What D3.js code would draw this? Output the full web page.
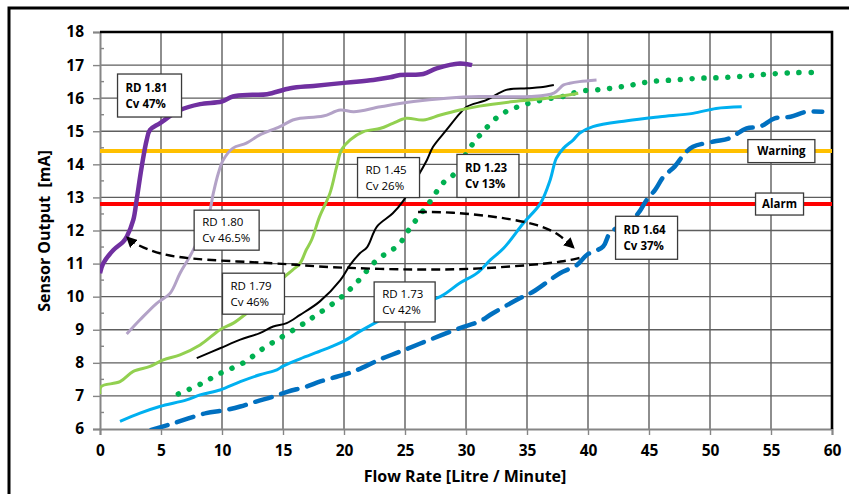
<!DOCTYPE html>
<html><head><meta charset="utf-8">
<script src="https://cdn.jsdelivr.net/npm/d3@7"></script>
<style>
html,body{margin:0;padding:0;background:#fff;}
svg{display:block;font-family:"Open Sans",sans-serif;}
</style></head>
<body><svg id="chart" width="849" height="494"></svg>
<script>
// ---------- data (flow rate L/min, sensor output mA) ----------
const xTicks = [0,5,10,15,20,25,30,35,40,45,50,55,60];
const yTicks = [6,7,8,9,10,11,12,13,14,15,16,17,18];
const warningLevel = 14.4;
const alarmLevel = 12.8;

const rd181 = [[0,10.71],[0.27,11.01],[1.1,11.41],[1.9,11.66],[2.2,11.82],[2.73,12.32],[3.0,12.92],[3.42,13.93],[3.83,14.74],[4.1,15.04],[4.9,15.24],[6.56,15.64],[8.2,15.82],[9.97,15.9],[10.9,16.05],[12.5,16.1],[13.7,16.12],[15.6,16.3],[17.5,16.37],[20.2,16.47],[22.4,16.55],[23.8,16.63],[24.6,16.7],[26.5,16.73],[27.6,16.9],[29.5,17.05],[30.5,17.0]];
const rd180 = [[2.19,8.87],[3.28,9.3],[4.65,9.8],[5.74,10.1],[6.56,10.71],[7.5,11.31],[8.88,12.42],[9.29,13.13],[9.7,13.73],[10.1,14.13],[10.9,14.49],[12.0,14.64],[13.1,14.89],[14.75,15.14],[15.8,15.34],[16.4,15.39],[18.3,15.46],[19.7,15.64],[20.8,15.59],[23.0,15.74],[25.7,15.9],[28.4,16.0],[31.1,16.05],[35.2,16.05],[37.2,16.15],[38.0,16.4],[38.5,16.45],[39.3,16.5],[40.7,16.55]];
const rd179 = [[0,7.05],[0.08,7.28],[1.64,7.43],[2.73,7.74],[4.1,7.89],[5.19,8.09],[6.56,8.24],[8.2,8.54],[9.84,9.0],[10.93,9.2],[12.02,9.5],[13.66,10.0],[15.0,10.56],[15.8,10.81],[16.4,11.01],[16.9,11.41],[17.35,11.72],[18.0,12.42],[18.85,13.13],[19.4,13.93],[19.8,14.44],[20.5,14.74],[21.6,14.99],[23.0,15.09],[24.0,15.24],[25.1,15.39],[26.5,15.34],[27.9,15.49],[29.5,15.64],[31.1,15.76],[33.9,15.9],[36.6,16.0],[39.2,16.15]];
const rd145 = [[7.93,8.14],[9.84,8.44],[11.5,8.7],[13.1,8.9],[14.2,9.1],[15.3,9.2],[16.4,9.45],[18.0,9.85],[19.7,10.5],[20.5,10.96],[21.3,11.31],[21.9,11.5],[22.7,12.12],[24.0,12.52],[24.9,12.92],[26.2,13.73],[26.8,14.13],[27.3,14.53],[28.4,15.04],[29.5,15.54],[30.05,15.74],[31.7,15.95],[33.3,16.25],[35.0,16.3],[36.1,16.33],[37.2,16.4]];
const rd123 = [[6.42,7.06],[8.2,7.35],[9.84,7.68],[11.75,8.0],[13.4,8.44],[14.9,8.78],[16.4,9.12],[17.35,9.35],[19.67,9.95],[21.0,10.41],[22.7,11.11],[24.45,11.56],[25.5,12.12],[27.05,12.87],[28.1,13.43],[28.96,13.68],[30.3,14.49],[31.4,14.99],[32.8,15.49],[34.4,15.76],[36.3,15.95],[38.3,16.08],[39.2,16.2],[41.25,16.27],[43.2,16.37],[45.1,16.5],[47.1,16.55],[49.0,16.6],[51.0,16.62],[53.0,16.67],[54.9,16.73],[56.9,16.77],[58.7,16.78]];
const rd173 = [[1.64,6.23],[3.28,6.48],[4.9,6.68],[7.1,6.88],[8.2,7.03],[9.84,7.18],[11.5,7.43],[13.1,7.64],[14.5,7.79],[15.0,7.9],[16.4,8.12],[18.3,8.39],[19.9,8.64],[21.3,8.95],[23.0,9.3],[24.6,9.6],[26.2,9.8],[27.9,10.0],[29.5,10.41],[30.9,10.71],[32.0,11.11],[33.1,11.47],[34.7,12.22],[36.1,12.82],[36.9,13.53],[37.4,14.18],[38.0,14.49],[38.8,14.74],[39.3,14.94],[40.4,15.14],[43.2,15.32],[45.9,15.44],[48.6,15.54],[50.5,15.69],[52.6,15.74]];
const rd164 = [[4.2,5.97],[6.0,6.17],[8.7,6.48],[10.1,6.56],[11.5,6.68],[12.8,6.83],[14.2,6.98],[15.4,7.13],[16.9,7.28],[18.0,7.43],[19.4,7.58],[20.8,7.74],[23.0,8.11],[24.6,8.34],[27.05,8.7],[29.5,9.05],[31.1,9.25],[32.2,9.5],[34.4,9.95],[35.5,10.15],[36.9,10.51],[37.7,10.71],[39.1,10.96],[39.9,11.26],[41.25,11.52],[41.8,11.92],[44.0,12.47],[44.8,12.92],[45.5,13.23],[46.2,13.63],[47.1,13.93],[47.95,14.34],[48.6,14.53],[50.3,14.69],[51.6,14.79],[53.0,15.09],[54.1,15.14],[55.3,15.39],[56.6,15.44],[57.9,15.59],[59.2,15.59]];

// annotation arrows (data units)
const arrowLeft = [[39.3,11.17],[37.95,11.06],[35.5,10.96],[31.7,10.86],[28.4,10.81],[22.95,10.83],[17.5,10.91],[14.75,11.01],[8.2,11.11],[4.92,11.26],[2.7,11.62],[2.2,11.8]];
const arrowRight = [[26.07,12.56],[28.7,12.56],[32.8,12.41],[36.1,12.17],[37.7,11.87],[38.85,11.47]];

const labelTexts = [
  ["RD 1.81","Cv 47%"], ["RD 1.80","Cv 46.5%"], ["RD 1.45","Cv 26%"], ["RD 1.23","Cv 13%"],
  ["RD 1.79","Cv 46%"], ["RD 1.73","Cv 42%"], ["RD 1.64","Cv 37%"], ["Warning"], ["Alarm"]
];

// ---------- layout / style ----------
const W = 849, H = 494;
const FONT = "'Open Sans', sans-serif";
const x = d3.scaleLinear().domain([0,60]).range([100,832]);
const y = d3.scaleLinear().domain([6,18]).range([429,32]);

const seriesStyle = [
  {data: rd164, color:"#0070C0", width:4.5, dash:"17 10", cap:"round"},
  {data: rd173, color:"#00B0F0", width:3, dash:null},
  {data: rd123, color:"#00B050", width:5.5, dash:"0.1 11.8", cap:"round"},
  {data: rd145, color:"#000000", width:2, dash:null},
  {data: rd179, color:"#92D050", width:3, dash:null},
  {data: rd180, color:"#B3A2C7", width:3, dash:null},
  {data: rd181, color:"#7030A0", width:4.5, dash:null}
];

// box centres in data units, size in px
const labelLayout = [
  {cx:4.06, cy:16.08, w:64, h:43, bold:true},
  {cx:10.38, cy:12.01, w:65, h:40, bold:false},
  {cx:23.65, cy:13.6, w:62, h:40, bold:false},
  {cx:31.8, cy:13.65, w:62, h:43, bold:true},
  {cx:12.58, cy:10.09, w:62, h:41, bold:false},
  {cx:24.97, cy:9.84, w:61, h:40, bold:false},
  {cx:44.8, cy:11.78, w:62, h:43, bold:true},
  {cx:55.85, cy:warningLevel, w:67, h:23, bold:true, center:true},
  {cx:55.7, cy:alarmLevel, w:48, h:22, bold:true, center:true}
];

const svg = d3.select("#chart");

// outer frame
svg.append("rect").attr("x",9).attr("y",8).attr("width",W+20).attr("height",H+20)
  .attr("fill","none").attr("stroke","#000").attr("stroke-width",3);

const defs = svg.append("defs");
defs.append("clipPath").attr("id","plotClip")
  .append("rect").attr("x",x(0)).attr("y",y(18)-3).attr("width",x(60)-x(0)).attr("height",y(6)-y(18)+3);
defs.append("marker").attr("id","arrowHead")
  .attr("viewBox","0 0 10 10").attr("refX",9).attr("refY",5)
  .attr("markerWidth",11).attr("markerHeight",11).attr("markerUnits","userSpaceOnUse")
  .attr("orient","auto")
  .append("path").attr("d","M0,0 L10,5 L0,10 Z").attr("fill","#000");

// gridlines
const grid = svg.append("g");
grid.selectAll("line.v").data(xTicks.slice(1,-1)).join("line")
  .attr("x1",d=>x(d)).attr("x2",d=>x(d)).attr("y1",y(18)).attr("y2",y(6))
  .attr("stroke","#5e5e5e").attr("stroke-width",1.4);
grid.selectAll("line.h").data(yTicks.slice(1,-1)).join("line")
  .attr("y1",d=>y(d)).attr("y2",d=>y(d)).attr("x1",x(0)).attr("x2",x(60))
  .attr("stroke","#5e5e5e").attr("stroke-width",1.4);

// axes
const yAxis = svg.append("g").attr("transform",`translate(${x(0)},0)`)
  .call(d3.axisLeft(y).tickValues(yTicks).tickSize(7).tickPadding(9).tickFormat(d3.format("d")));
const xAxis = svg.append("g").attr("transform",`translate(0,${y(6)})`)
  .call(d3.axisBottom(x).tickValues(xTicks).tickSize(6).tickPadding(10).tickFormat(d3.format("d")));
[xAxis,yAxis].forEach(a=>{
  a.select(".domain").attr("stroke","#868686").attr("stroke-width",2);
  a.selectAll(".tick line").attr("stroke","#868686").attr("stroke-width",1.4);
  a.selectAll(".tick text").attr("fill","#000")
    .style("font-family",FONT).style("font-size","15.5px").style("font-weight","bold");
});
// minor ticks on y (inside)
svg.append("g").selectAll("line").data(yTicks.slice(0,-1).map(v=>v+0.5)).join("line")
  .attr("x1",x(0)).attr("x2",x(0)+4).attr("y1",d=>y(d)).attr("y2",d=>y(d))
  .attr("stroke","#868686").attr("stroke-width",1.4);

// top and right plot border
svg.append("path").attr("d",`M${x(0)},${y(18)} H${x(60)} V${y(6)}`)
  .attr("fill","none").attr("stroke","#000").attr("stroke-width",2.6);

// threshold lines
svg.append("line").attr("x1",x(0)).attr("x2",x(60)).attr("y1",y(warningLevel)).attr("y2",y(warningLevel))
  .attr("stroke","#FFC000").attr("stroke-width",4);
svg.append("line").attr("x1",x(0)).attr("x2",x(60)).attr("y1",y(alarmLevel)).attr("y2",y(alarmLevel))
  .attr("stroke","#FF0000").attr("stroke-width",4);

// series
const line = d3.line().x(d=>x(d[0])).y(d=>y(d[1])).curve(d3.curveCatmullRom.alpha(0.5));
const plot = svg.append("g").attr("clip-path","url(#plotClip)");
seriesStyle.forEach(s=>{
  plot.append("path").attr("d",line(s.data)).attr("fill","none")
    .attr("stroke",s.color).attr("stroke-width",s.width)
    .attr("stroke-linecap",s.cap||"butt").attr("stroke-linejoin","round")
    .attr("stroke-dasharray",s.dash);
});

// arrows
const aLine = d3.line().x(d=>x(d[0])).y(d=>y(d[1])).curve(d3.curveBasis);
[arrowLeft,arrowRight].forEach(a=>{
  svg.append("path").attr("d",aLine(a)).attr("fill","none").attr("stroke","#000")
    .attr("stroke-width",2.4).attr("stroke-dasharray","9 5")
    .attr("marker-end","url(#arrowHead)");
});

// label boxes
labelLayout.forEach((L,i)=>{
  const lines = labelTexts[i];
  const cx = x(L.cx), cy = y(L.cy);
  const g = svg.append("g");
  g.append("rect").attr("x",cx-L.w/2).attr("y",cy-L.h/2).attr("width",L.w).attr("height",L.h)
    .attr("fill","#fff").attr("stroke","#3a3a3a").attr("stroke-width",1.3);
  const lh = 16;
  lines.forEach((t,j)=>{
    g.append("text")
      .attr("x", L.center ? cx : cx-L.w/2+8)
      .attr("y", cy + (j-(lines.length-1)/2)*lh)
      .attr("dy","0.36em")
      .attr("text-anchor", L.center ? "middle":"start")
      .style("font-family",FONT)
      .style("font-size","11.5px")
      .style("font-weight", L.bold ? "bold":"normal")
      .attr("fill","#000").text(t);
  });
});

// axis titles
svg.append("text").attr("x",465).attr("y",482).attr("text-anchor","middle")
  .style("font-family",FONT).style("font-size","16px").style("font-weight","bold")
  .text("Flow Rate [Litre / Minute]");
svg.append("text").attr("transform",`translate(50,231) rotate(-90)`).attr("text-anchor","middle")
  .style("font-family",FONT).style("font-size","16px").style("font-weight","bold")
  .attr("xml:space","preserve").text("Sensor Output  [mA]");
</script></body></html>
